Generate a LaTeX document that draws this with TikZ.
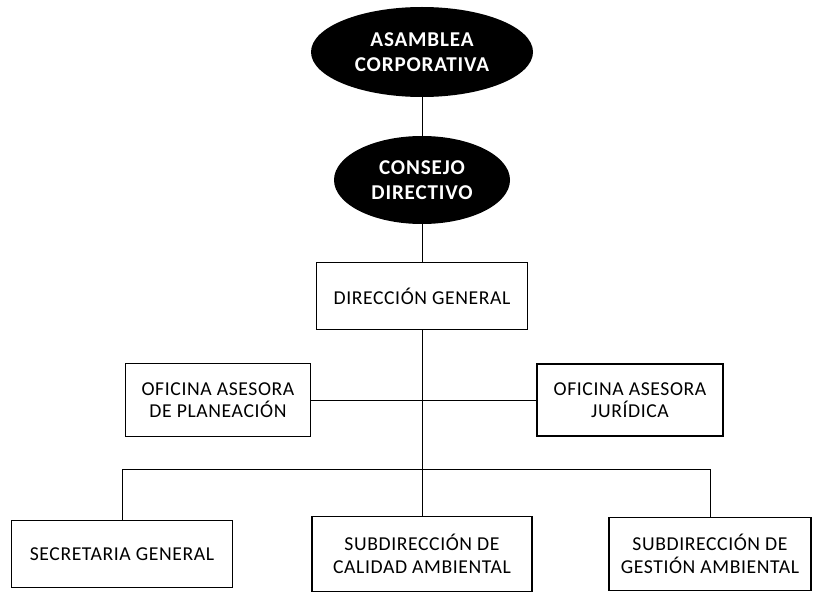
\documentclass[tikz,border=0pt]{standalone}
\usepackage{fontspec}
\setmainfont{Carlito}
\newfontfamily\orgfont[LetterSpace=3]{Carlito}
\newfontfamily\bossfont[LetterSpace=4]{Carlito}
\usetikzlibrary{shapes.geometric,positioning}

\begin{document}
\begin{tikzpicture}[node distance=2cm,on grid,
	boss/.style={ellipse,fill=black,text=white,font=\bossfont\fontsize{15}{18}\selectfont\bfseries,align=center,inner sep=0pt},
	office/.style={rectangle,draw,line width=0.8pt,font=\orgfont\fontsize{14}{16}\selectfont,align=center,inner sep=0pt},
	link/.style={line width=0.7pt}]
			\useasboundingbox (0,0) rectangle (20.375,-14.9);
			\node[boss,minimum width=5.55cm,minimum height=2.25cm] (asamblea) at (10.55,-1.3) {ASAMBLEA\\CORPORATIVA};
			\node[boss,minimum width=4.4cm,minimum height=2.2cm] (consejo) [below=3.2cm of asamblea] {CONSEJO\\DIRECTIVO};
			\node[office,minimum width=5.28cm,minimum height=1.68cm] (direccion) [below=2.9cm of consejo] {DIRECCIÓN GENERAL};
			\node[office,minimum width=4.63cm,minimum height=1.83cm] (planeacion) [below left=2.6cm and 5.1cm of direccion] {OFICINA ASESORA\\DE PLANEACIÓN};
			\node[office,minimum width=4.65cm,minimum height=1.8cm] (juridica) [below right=2.6cm and 5.2cm of direccion] {OFICINA ASESORA\\JURÍDICA};
			\node[office,minimum width=5.5cm,minimum height=1.88cm] (calidad) [below=6.45cm of direccion] {SUBDIRECCIÓN DE\\CALIDAD AMBIENTAL};
			\node[office,minimum width=5.53cm,minimum height=1.68cm] (secretaria) [left=7.5cm of calidad] {SECRETARIA GENERAL};
			\node[office,minimum width=5.05cm,minimum height=1.83cm] (gestion) [right=7.2cm of calidad] {SUBDIRECCIÓN DE\\GESTIÓN AMBIENTAL};
			\coordinate (bar) at ([yshift=2.12cm]calidad.center);
			\path[link]
			
			(asamblea) edge (consejo)
			(consejo) edge (direccion)
			(direccion) edge (calidad)
			(planeacion) edge (juridica);
			\draw[link] (secretaria.north) |- (bar) -| (gestion.north);
			
		\end{tikzpicture}
\end{document}
